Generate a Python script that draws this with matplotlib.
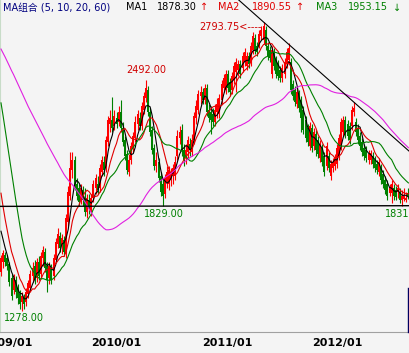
import matplotlib
matplotlib.use("Agg")
import matplotlib.pyplot as plt
import numpy as np
import pandas as pd

# weekly closes before the first visible candle (warm-up for the moving averages)
closes_2008 = [2860, 2820, 2880, 2840, 2790, 2750, 2800, 2770, 2730, 2780,
               2820, 2860, 2830, 2790, 2760, 2720, 2760, 2800, 2850, 2880,
               2830, 2790, 2740, 2700, 2750, 2800, 2840, 2870, 2820, 2780,
               2730, 2760, 2810, 2750, 2800, 2760, 2790, 2740, 2800, 2770,
               2950, 3010, 2980, 2900, 2890, 2850, 2810, 2740, 2660, 2640,
               2300, 2200, 2100, 2000, 1880, 1800, 1760, 1700, 1670]

# weekly candles
open_ = [1484, 1536, 1573, 1557, 1526, 1452, 1389, 1442, 1400, 1368,
         1327, 1348, 1327, 1368, 1400, 1463, 1515, 1452, 1536, 1473,
         1557, 1589, 1515, 1452, 1505, 1463, 1547, 1630, 1672, 1620,
         1651, 1578, 1746, 1882, 2018, 2071, 1945, 1924, 1861, 1913,
         1871, 1798, 1861, 1798, 1871, 1924, 1945, 1924, 2008, 2060,
         2029, 2165, 2259, 2280, 2249, 2291, 2270, 2322, 2238, 2175,
         2102, 2008, 2071, 2134, 2186, 2259, 2291, 2249, 2333, 2395,
         2437, 2322, 2228, 2134, 2039, 2060, 1987, 1945, 1892, 1955,
         1945, 1966, 1987, 1987, 2092, 2186, 2228, 2123, 2081, 2113,
         2154, 2113, 2175, 2291, 2333, 2406, 2427, 2385, 2448, 2333,
         2322, 2312, 2270, 2322, 2312, 2385, 2448, 2437, 2521, 2479,
         2437, 2490, 2532, 2542, 2574, 2553, 2584, 2563, 2616, 2584,
         2647, 2710, 2668, 2668, 2720, 2699, 2752, 2668, 2647, 2521,
         2637, 2595, 2574, 2542, 2500, 2521, 2574, 2595, 2584, 2469,
         2437, 2364, 2416, 2385, 2333, 2280, 2238, 2144, 2238, 2144,
         2207, 2175, 2081, 2134, 2092, 2039, 2092, 1987, 2029, 2039,
         2050, 2092, 2144, 2217, 2280, 2259, 2249, 2249, 2322, 2270,
         2238, 2196, 2165, 2134, 2123, 2071, 2071, 2092, 2071, 2050,
         2008, 2029, 1997, 1966, 1945, 1898, 1898, 1924, 1913, 1903,
         1903, 1861, 1866, 1861, 1898]
high = [1573, 1599, 1589, 1573, 1536, 1473, 1473, 1463, 1421, 1389,
        1379, 1368, 1400, 1442, 1494, 1536, 1547, 1557, 1568, 1589,
        1620, 1609, 1536, 1536, 1526, 1578, 1662, 1714, 1693, 1683,
        1672, 1788, 1934, 2113, 2113, 2092, 1976, 1945, 1945, 1934,
        1924, 1892, 1892, 1892, 1966, 1997, 1987, 2050, 2092, 2092,
        2196, 2301, 2333, 2401, 2333, 2322, 2354, 2385, 2270, 2196,
        2123, 2102, 2165, 2217, 2301, 2333, 2322, 2374, 2427, 2492,
        2458, 2343, 2249, 2154, 2113, 2081, 2008, 1976, 1997, 2039,
        2039, 2029, 2050, 2092, 2228, 2249, 2259, 2154, 2154, 2196,
        2186, 2207, 2322, 2385, 2437, 2458, 2448, 2469, 2469, 2364,
        2354, 2343, 2364, 2395, 2416, 2490, 2521, 2542, 2542, 2500,
        2532, 2584, 2605, 2595, 2595, 2637, 2657, 2637, 2637, 2689,
        2741, 2731, 2689, 2752, 2773, 2793.75, 2773, 2689, 2668, 2668,
        2657, 2616, 2595, 2563, 2574, 2605, 2657, 2684, 2605, 2490,
        2458, 2448, 2437, 2406, 2354, 2301, 2259, 2270, 2259, 2238,
        2228, 2196, 2175, 2154, 2113, 2165, 2113, 2071, 2081, 2102,
        2154, 2207, 2291, 2301, 2301, 2280, 2270, 2354, 2374, 2291,
        2259, 2217, 2186, 2154, 2144, 2123, 2123, 2113, 2092, 2071,
        2081, 2050, 2018, 1987, 1966, 1945, 1966, 1945, 1934, 1945,
        1924, 1913, 1924, 1903, 1924]
low = [1463, 1505, 1515, 1494, 1410, 1337, 1368, 1348, 1316, 1290,
       1278, 1290, 1306, 1348, 1379, 1431, 1421, 1431, 1442, 1452,
       1515, 1484, 1379, 1421, 1421, 1442, 1536, 1609, 1589, 1578,
       1568, 1557, 1725, 1861, 1976, 1913, 1861, 1829, 1840, 1829,
       1777, 1767, 1788, 1777, 1850, 1892, 1892, 1903, 1987, 1987,
       2008, 2144, 2217, 2217, 2228, 2238, 2249, 2217, 2144, 2071,
       1997, 1987, 2050, 2113, 2165, 2228, 2228, 2228, 2312, 2374,
       2301, 2196, 2102, 2018, 2008, 1955, 1882, 1829, 1871, 1924,
       1913, 1934, 1945, 1966, 2071, 2154, 2092, 2039, 2050, 2081,
       2092, 2092, 2154, 2259, 2312, 2364, 2364, 2364, 2301, 2270,
       2207, 2249, 2249, 2291, 2291, 2364, 2427, 2416, 2427, 2406,
       2416, 2469, 2427, 2511, 2500, 2532, 2563, 2542, 2553, 2563,
       2626, 2626, 2616, 2657, 2699, 2678, 2647, 2595, 2584, 2500,
       2542, 2500, 2490, 2479, 2479, 2500, 2553, 2574, 2416, 2385,
       2354, 2343, 2322, 2217, 2207, 2165, 2144, 2123, 2113, 2123,
       2092, 2081, 2060, 2039, 1987, 2018, 2008, 1966, 2008, 2018,
       2029, 2071, 2123, 2196, 2186, 2175, 2154, 2228, 2301, 2196,
       2154, 2123, 2092, 2071, 2060, 2050, 2050, 2029, 2008, 1997,
       1987, 1945, 1924, 1892, 1861, 1882, 1845, 1861, 1861, 1871,
       1845, 1831, 1856, 1850, 1866]
close = [1557, 1583, 1536, 1515, 1431, 1358, 1452, 1379, 1348, 1316,
         1358, 1316, 1379, 1426, 1473, 1505, 1442, 1536, 1463, 1568,
         1599, 1505, 1442, 1515, 1442, 1557, 1641, 1683, 1609, 1662,
         1589, 1767, 1903, 2029, 2071, 1934, 1882, 1850, 1924, 1861,
         1798, 1871, 1819, 1871, 1945, 1976, 1913, 2029, 2071, 2018,
         2175, 2280, 2291, 2238, 2301, 2259, 2322, 2238, 2165, 2092,
         2018, 2071, 2144, 2196, 2270, 2312, 2249, 2354, 2406, 2448,
         2322, 2217, 2123, 2039, 2071, 1976, 1903, 1882, 1976, 2008,
         2018, 1997, 2029, 2060, 2196, 2217, 2123, 2071, 2123, 2175,
         2123, 2175, 2301, 2354, 2416, 2427, 2385, 2448, 2322, 2291,
         2280, 2270, 2333, 2364, 2395, 2469, 2500, 2521, 2448, 2427,
         2511, 2563, 2584, 2574, 2521, 2616, 2637, 2616, 2574, 2668,
         2720, 2647, 2637, 2731, 2752, 2773, 2668, 2616, 2605, 2647,
         2563, 2521, 2511, 2500, 2553, 2584, 2637, 2657, 2437, 2406,
         2374, 2427, 2343, 2291, 2228, 2186, 2165, 2249, 2134, 2217,
         2123, 2102, 2154, 2060, 2008, 2144, 2029, 2050, 2060, 2081,
         2134, 2186, 2270, 2280, 2207, 2196, 2175, 2333, 2343, 2217,
         2175, 2144, 2113, 2092, 2081, 2102, 2107, 2050, 2029, 2018,
         2060, 1966, 1945, 1913, 1882, 1929, 1945, 1882, 1877, 1924,
         1861, 1882, 1887, 1871, 1882]

dates = pd.date_range("2008-12-12", periods=len(close), freq="W-FRI")
ma_periods = [5, 10, 20, 60]
header_values = ["1878.30", "1890.55", "1953.15"]
header_arrows = ["\u2191", "\u2191", "\u2193"]

RED = "#ff0000"
GREEN = "#008000"
ma_colors = ["#000000", "#e00000", "#008000", "#e020e0"]
BG = "#f4f4f4"

o = np.array(open_, dtype=float)
h = np.array(high, dtype=float)
l = np.array(low, dtype=float)
c = np.array(close, dtype=float)
n = len(c)
x = np.arange(n)

W, H = 410, 353
fig = plt.figure(figsize=(W / 100, H / 100), dpi=100, facecolor=BG)
ax = fig.add_axes([0, 21 / H, 1, 332 / H], facecolor=BG)

up = c >= o
cols = np.where(up, RED, GREEN)
ax.vlines(x, l, h, colors=cols, linewidth=0.8, zorder=2)
body = np.maximum(np.abs(c - o), 3)
ax.bar(x, body, bottom=np.minimum(o, c), width=0.9, color=cols, linewidth=0, zorder=3)

# moving averages
full = pd.Series(np.concatenate([closes_2008, c]))
for p, col in zip(ma_periods, ma_colors):
    ma = full.rolling(p).mean().to_numpy()[-n:]
    ax.plot(x, ma, color=col, linewidth=0.8, zorder=4)

# trend lines: lows 1829/1831 and highs 2793.75 / spring 2012 top
lo1 = int(np.argmin(l[60:120])) + 60
lo2 = int(np.argmin(l[150:])) + 150
hi1 = int(np.argmax(h))
hi2 = int(np.argmax(h[150:])) + 150
ax.axline((lo1, l[lo1]), (lo2, l[lo2]), color="black", linewidth=1, zorder=5)
ax.axline((hi1, h[hi1]), (hi2, h[hi2]), color="black", linewidth=0.8, zorder=5)

# price labels
lo0 = int(np.argmin(l))
hi0 = int(np.argmax(h[:100]))
ax.annotate(f"{h[hi0]:.2f}", (hi0, h[hi0]), xytext=(0, 7), textcoords="offset points",
            ha="center", va="center", color="#d00000", fontsize=7)
ax.annotate(f"{h[hi1]:.2f}<----", (hi1, h[hi1]), xytext=(-1, -3.6), textcoords="offset points",
            ha="right", va="center", color="#d00000", fontsize=7)
ax.annotate(f"{l[lo1]:.2f}", (lo1, l[lo1]), xytext=(1, -6), textcoords="offset points",
            ha="center", va="center", color=GREEN, fontsize=7)
ax.annotate(f"{l[lo0]:.2f}", (lo0, l[lo0]), xytext=(1.5, -5), textcoords="offset points",
            ha="center", va="center", color=GREEN, fontsize=7)
ax.annotate(f"{l[lo2]:.2f}", (lo2, l[lo2]), xytext=(-12.3, -6), textcoords="offset points",
            ha="left", va="center", color=GREEN, fontsize=7, annotation_clip=False)

ax.set_xlim(-0.48, 194.76)
ax.set_ylim(1169.3, 2909)

# x axis: first week of each year
years = dates.year
tick_pos = [i for i in range(n) if i == 0 or years[i] != years[i - 1]]
tick_pos = [i for i in tick_pos if dates[i].month == 1]
ax.set_xticks(tick_pos)
ax.set_xticklabels([dates[i].strftime("%Y/%m") for i in tick_pos],
                   fontsize=8, fontweight="bold")
ax.tick_params(axis="x", length=0, pad=4)
ax.set_yticks([])
for s in ["top", "right"]:
    ax.spines[s].set_visible(False)
ax.spines["bottom"].set_color("#a0a0a0")
ax.spines["left"].set_color("#c8dcc8")

# small dark marker at the right end of the window
fig.add_artist(plt.Line2D([408.5 / W, 408.5 / W], [21 / H, 65 / H], color="#000060", linewidth=1))

# header
fam = ["DejaVu Sans", "Noto Sans CJK SC"]
ty = 1 - 7.5 / H
fig.text(3 / W, ty, "MA组合 (5, 10, 20, 60)", color="#000080", fontsize=7, family=fam, va="center")
hx = [(126, 157, 200), (218, 252, 296), (316, 348, 393)]
for k, (a, b, d) in enumerate(hx):
    col = ["black", "#e00000", GREEN][k]
    fig.text(a / W, ty, f"MA{k + 1}", color=col, fontsize=7, va="center")
    fig.text(b / W, ty, header_values[k], color=col, fontsize=7, va="center")
    acol = "#e00000" if k < 2 else GREEN
    fig.text(d / W, ty, header_arrows[k], color=acol, fontsize=7, va="center", family=fam)

fig.savefig("out.png", dpi=100, facecolor=BG)
